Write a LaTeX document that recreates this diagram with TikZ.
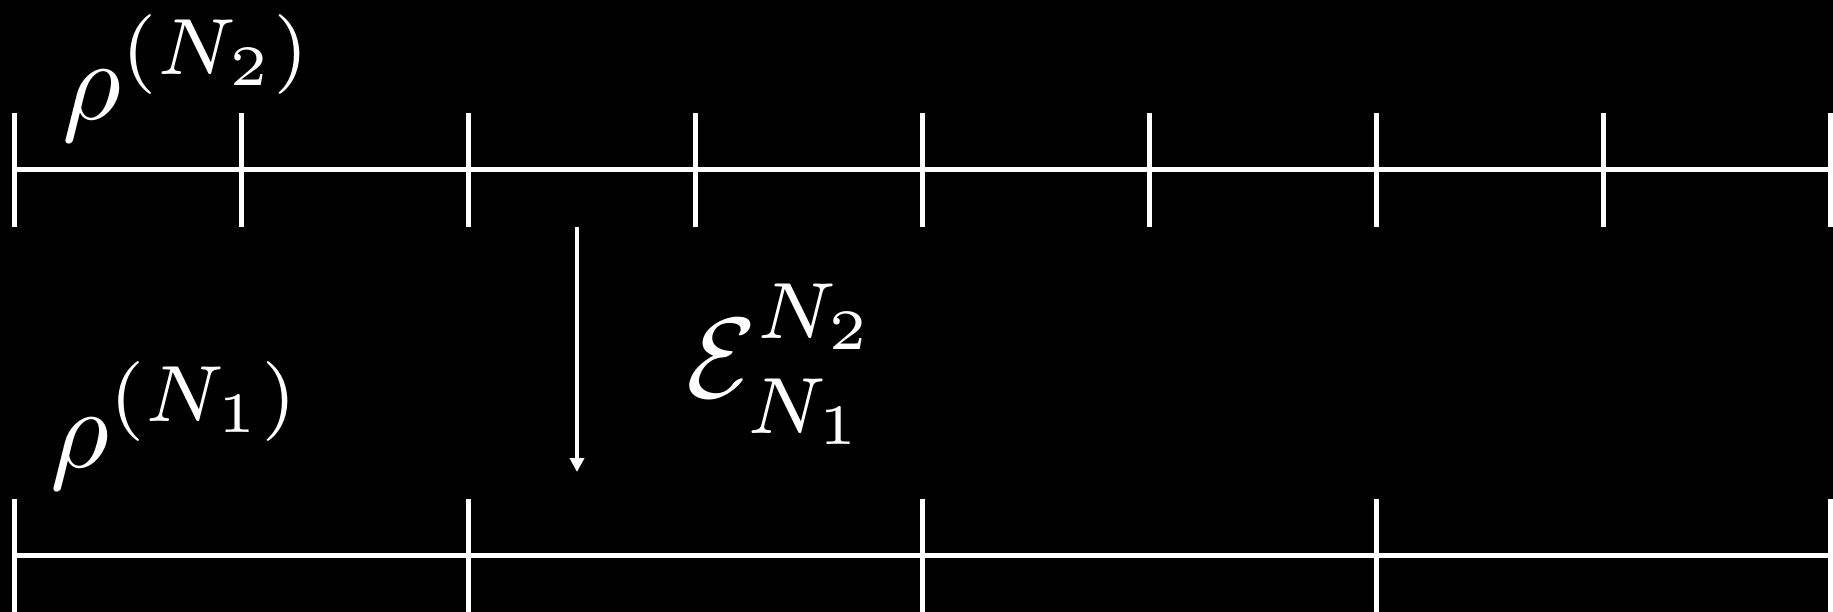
\documentclass[tikz,border=0pt]{standalone}
\usepackage{amsmath}
\usetikzlibrary{arrows.meta}
\begin{document}
\begin{tikzpicture}[x=1pt,y=-1pt,
  axis/.style={white,line width=5pt},
  tick/.style={white,line width=5pt},
  maparrow/.style={white,line width=4pt,-{Triangle[width=14pt,length=14pt]}},
  lab/.style={white,inner sep=0pt,anchor=base west,scale=11.4}]
\fill[black] (0,0) rectangle (1833,612);
\useasboundingbox (0,0) rectangle (1833,612);
% top axis
\coordinate (t0) at (14,170);
\coordinate (t8) at (1830,170);
\draw[axis] (t0) -- (t8);
\foreach \i in {0,...,8}{\draw[tick] (14+227*\i,113) -- (14+227*\i,227);}
% bottom axis
\coordinate (b0) at (14,555);
\coordinate (b4) at (1830,555);
\draw[axis] (b0) -- (b4);
\foreach \i in {0,...,4}{\draw[tick] (14+454*\i,499) -- (14+454*\i,620);}
% arrow
\coordinate (a1) at (577,227);
\coordinate (a2) at (577,472);
\draw[maparrow] (a1) -- (a2);
% labels
\node[lab] (r2) at (60,120) {$\rho^{\raisebox{0.4pt}{$\scriptstyle(N_2)$}}$};
\node[lab] (r1) at (48,467) {$\rho^{\raisebox{0.4pt}{$\scriptstyle(N_1)$}}$};
\node[lab] (eps) at (684,397) {$\mathcal{E}^{\raisebox{1.5pt}{$\scriptstyle N_2$}}_{\raisebox{-0.7pt}{$\scriptstyle N_1$}}$};
\end{tikzpicture}
\end{document}
